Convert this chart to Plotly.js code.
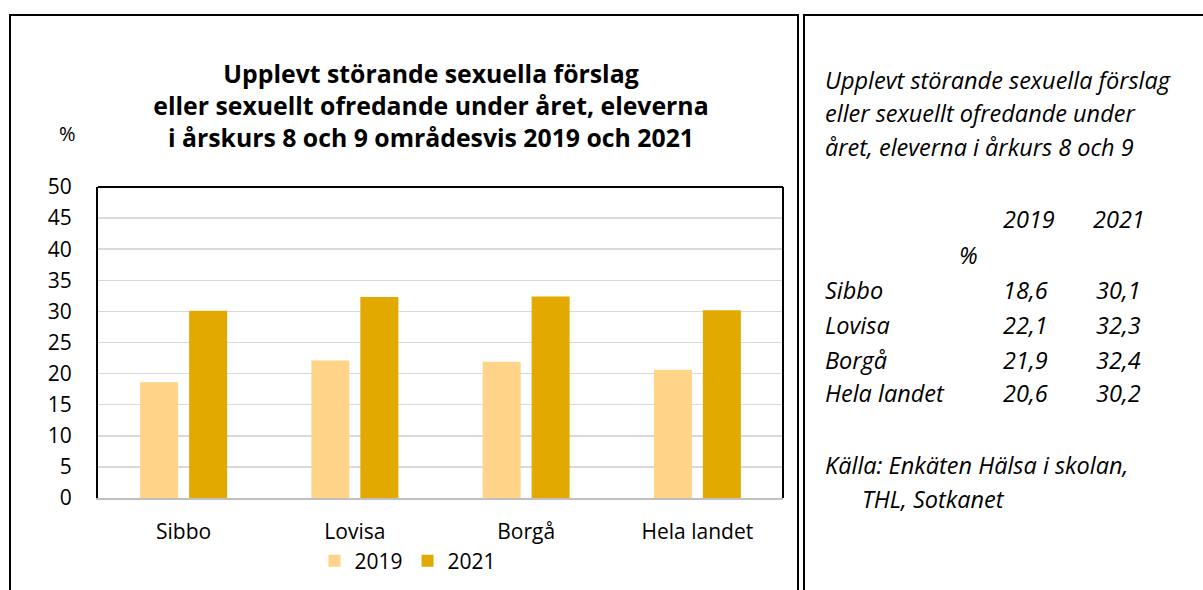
<!DOCTYPE html>
<html><head><meta charset="utf-8">
<script src="https://cdn.plot.ly/plotly-3.0.1.min.js"></script>
<style>html,body{margin:0;padding:0;background:#fff}#chart{width:1203px;height:590px}</style>
</head><body><div id="chart"></div>
<script>
const categories = ["Sibbo", "Lovisa", "Borgå", "Hela landet"];
const years = ["2019", "2021"];
const values2019 = [18.6, 22.1, 21.9, 20.6];
const values2021 = [30.1, 32.3, 32.4, 30.2];
const yTicks = [0, 5, 10, 15, 20, 25, 30, 35, 40, 45, 50];

const W = 1203, H = 590;
const mL = 98, mR = 420, mT = 187, mB = 92;
const pw = W - mL - mR, ph = H - mT - mB;
const px = x => (x - mL) / pw;
const py = y => (H - mB - y) / ph;
const FONT = "'Open Sans', 'Liberation Sans', sans-serif";
const fmt = v => v.toFixed(1).replace('.', ',');

const traces = [
  {type: 'bar', name: years[0], x: categories, y: values2019, marker: {color: '#FFD388'}},
  {type: 'bar', name: years[1], x: categories, y: values2021, marker: {color: '#E2AA00'}}
];

const shapes = [
  {type: 'rect', xref: 'paper', yref: 'paper', x0: px(10), x1: px(798), y0: py(620), y1: py(15), line: {color: '#000', width: 2}},
  {type: 'rect', xref: 'paper', yref: 'paper', x0: px(804), x1: px(1210), y0: py(620), y1: py(15), line: {color: '#000', width: 2}},
  {type: 'line', xref: 'paper', yref: 'paper', x0: 0, x1: 1, y0: 1, y1: 1, line: {color: '#000', width: 2}},
  {type: 'line', xref: 'paper', yref: 'paper', x0: 1, x1: 1, y0: 0, y1: 1, line: {color: '#000', width: 2}}
];

const ann = [];
const italic = (t, x, y, anchor) => ann.push({text: '<i>' + t + '</i>', xref: 'paper', yref: 'paper', x: px(x), y: py(y), xanchor: anchor || 'left', yanchor: 'middle', showarrow: false, font: {family: FONT, size: 23.5, color: '#000'}});

ann.push({text: '%', xref: 'paper', yref: 'paper', x: px(67), y: py(133), xanchor: 'center', yanchor: 'middle', showarrow: false, font: {family: FONT, size: 20, color: '#000'}});

italic('Upplevt störande sexuella förslag', 823, 80);
italic('eller sexuellt ofredande under', 823, 113);
italic('året, eleverna i årkurs 8 och 9', 823, 147);
italic(years[0], 1057, 219, 'right');
italic(years[1], 1147, 219, 'right');
italic('%', 980, 255, 'right');
const rowY = [290, 325, 360, 393];
categories.forEach((c, i) => {
  italic(c, 823, rowY[i]);
  italic(fmt(values2019[i]), 1050, rowY[i], 'right');
  italic(fmt(values2021[i]), 1143, rowY[i], 'right');
});
italic('Källa: Enkäten Hälsa i skolan,', 823, 465);
italic('THL, Sotkanet', 860, 499);

const layout = {
  width: W, height: H,
  margin: {l: mL, r: mR, t: mT, b: mB, pad: 0, autoexpand: false},
  paper_bgcolor: '#fff', plot_bgcolor: '#fff',
  font: {family: FONT, color: '#000', size: 18},
  title: {
    text: '<b>Upplevt störande sexuella förslag<br>eller sexuellt ofredande under året, eleverna<br>i årskurs 8 och 9 områdesvis 2019 och 2021</b>',
    font: {family: FONT, size: 24.8, color: '#000'},
    x: px(431), xref: 'paper', xanchor: 'center',
    y: 1 - 83 / H, yref: 'container', yanchor: 'top'
  },
  barmode: 'group', bargap: 0.428, bargroupgap: 0.224,
  xaxis: {
    type: 'category', showgrid: false, showline: true, linecolor: '#BFBFBF', linewidth: 2, automargin: false,
    ticks: '', tickfont: {family: FONT, size: 21, color: '#000'}, ticklabelstandoff: 14, fixedrange: true
  },
  yaxis: {
    range: [0, 50], tickvals: yTicks, ticktext: yTicks.map(String), automargin: false,
    showgrid: true, gridcolor: '#D9D9D9', gridwidth: 1.5, zeroline: false,
    showline: true, linecolor: '#000', linewidth: 2, ticks: '',
    tickfont: {family: FONT, size: 21, color: '#000'}, ticklabelstandoff: 20, fixedrange: true
  },
  legend: {
    orientation: 'h', x: px(408), xanchor: 'center', y: py(561), yanchor: 'middle',
    font: {family: FONT, size: 21, color: '#000'}, itemwidth: 30, traceorder: 'normal'
  },
  showlegend: true,
  shapes: shapes,
  annotations: ann
};

Plotly.newPlot('chart', traces, layout, {displayModeBar: false, staticPlot: true});
</script></body></html>
